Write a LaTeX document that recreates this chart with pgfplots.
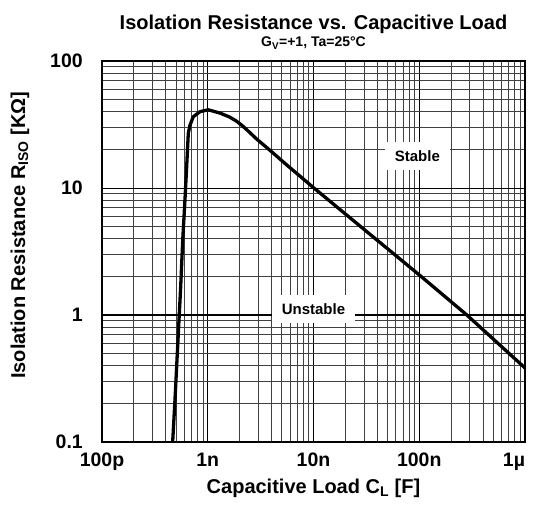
\documentclass[border=0pt]{standalone}
\usepackage{fontspec}
\setmainfont{Liberation Sans}
\usepackage{pgfplots}
\pgfplotsset{compat=1.18}
\begin{document}
\begin{tikzpicture}
\begin{axis}[
  scale only axis,
  width=423pt, height=381pt,
  xmode=log, ymode=log,
  xmin=1e-10, xmax=1e-6,
  ymin=0.1, ymax=100,
  xtick={1e-10,1e-9,1e-8,1e-7,1e-6},
  xticklabels={100p,1n,10n,100n,\makebox[0pt][r]{1µ}},
  ytick={0.1,1,10,100},
  yticklabels={0.1,1,10,100},
  minor xtick={2e-10,3e-10,4e-10,5e-10,6e-10,7e-10,8e-10,9e-10,
    2e-9,3e-9,4e-9,5e-9,6e-9,7e-9,8e-9,9e-9,
    2e-8,3e-8,4e-8,5e-8,6e-8,7e-8,8e-8,9e-8,
    2e-7,3e-7,4e-7,5e-7,6e-7,7e-7,8e-7,9e-7},
  minor ytick={0.2,0.3,0.4,0.5,0.6,0.7,0.8,0.9,
    2,3,4,5,6,7,8,9,20,30,40,50,60,70,80,90},
  major tick length=0pt, minor tick length=0pt,
  grid=both,
  major grid style={black, line width=0.8pt},
  minor grid style={black!75, line width=0.7pt},
  axis line style={black, line width=1.2pt},
  /pgf/number format/assume math mode=true,
  ticklabel style={font=\bfseries\fontsize{19.5}{23}\selectfont},
  xticklabel style={anchor=north, inner sep=0pt, yshift=-11pt},
  yticklabel style={anchor=east, inner sep=0pt, xshift=-19pt},
  xlabel={Capacitive Load C\textsubscript{L} [F]},
  ylabel={Isolation Resistance R\textsubscript{ISO} [KΩ]},
  label style={font=\bfseries\fontsize{20}{24}\selectfont},
  xlabel style={at={(axis description cs:0.5,0)}, anchor=base, yshift=-51pt},
  ylabel style={at={(axis description cs:-0.194,0.543)}, anchor=center, rotate=0},
]
\addplot[black, line width=2pt, forget plot] coordinates {(1e-10,1) (1e-6,1)};
\addplot[black, line width=3.3pt, line join=round] coordinates {
(4.66e-10,0.1)
(4.90e-10,0.214)
(5.27e-10,0.718)
(5.55e-10,1.67)
(5.80e-10,3.90)
(6.09e-10,8.05)
(6.32e-10,14.7)
(6.55e-10,27.0)
(6.80e-10,31.3)
(7.30e-10,36.4)
(8.45e-10,39.9)
(1.01e-9,41.3)
(1.306e-9,38.9)
(1.60e-9,36.3)
(1.85e-9,33.8)
(2.10e-9,31.2)
(2.40e-9,28.2)
(2.90e-9,24.3)
(3.88e-9,19.8)
(5.58e-9,15.2)
(7.45e-9,12.4)
(9.95e-9,10.1)
(3e-8,4.73)
(1e-7,2.07)
(2.82e-7,1.0)
(1e-6,0.383)
};
\node[fill=white, minimum width=65pt, minimum height=28pt, inner sep=0pt,
  font=\bfseries\fontsize{15}{18}\selectfont] at (axis cs:9.6e-8,17.9) {Stable};
\node[fill=white, minimum width=83pt, minimum height=28pt, inner sep=0pt,
  font=\bfseries\fontsize{15}{18}\selectfont] at (axis cs:1e-8,1.115) {Unstable};
\end{axis}
\node[anchor=base, inner sep=0pt, yshift=31pt, font=\bfseries\fontsize{20}{24}\selectfont]
  at (current axis.north) {Isolation Resistance vs. Capacitive Load};
\node[anchor=base, inner sep=0pt, yshift=14pt, font=\bfseries\fontsize{14}{17}\selectfont]
  at (current axis.north) {G\textsubscript{V}=+1, Ta=25°C};
\pgfresetboundingbox
\path ([xshift=-102pt,yshift=-66pt]current axis.south west) rectangle ([xshift=10pt,yshift=61pt]current axis.north east);
\end{tikzpicture}
\end{document}
